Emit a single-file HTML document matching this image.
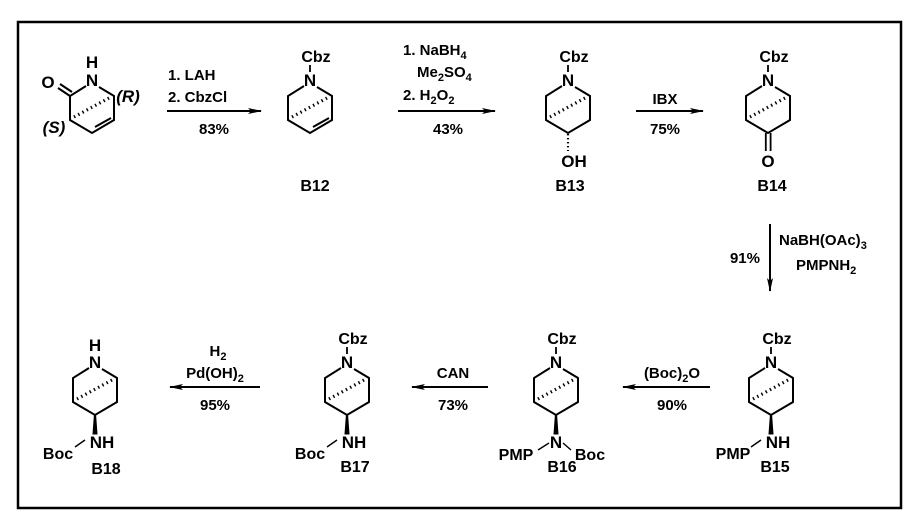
<!DOCTYPE html>
<html><head><style>
html,body{margin:0;padding:0;background:#fff;}
svg{display:block;}
text{font-family:"Liberation Sans",Arial,sans-serif;font-weight:bold;fill:#000;}
</style></head><body>
<svg width="919" height="525" viewBox="0 0 919 525" xmlns="http://www.w3.org/2000/svg">
<defs>
<g id="ring">
<path d="M-6,6 L-22,16 L-22,40 L0,53 L22,40 L22,16 L7,7" fill="none" stroke="#000" stroke-width="2"/>
<line x1="-18" y1="37" x2="17" y2="18" stroke="#000" stroke-width="3.2" stroke-dasharray="1.4,3.4"/>
<text x="0" y="6" font-size="17" text-anchor="middle">N</text>
</g>
<g id="cbz">
<line x1="0" y1="-8" x2="0" y2="-15" stroke="#000" stroke-width="1.8"/>
<text x="6" y="-18" font-size="16" text-anchor="middle">Cbz</text>
</g>
<g id="wedge">
<path d="M-2,72 L2,72 L0.6,53 L-0.6,53 Z" fill="#000" stroke="#000" stroke-width="1"/>
</g>
<marker id="ah" markerWidth="14" markerHeight="8" refX="13" refY="4" orient="auto" markerUnits="userSpaceOnUse">
<path d="M0,1 L14,4 L0,7 L3,4 Z" fill="#000"/>
</marker>
</defs>
<rect x="18" y="22" width="883" height="486" fill="none" stroke="#000" stroke-width="2.5"/>

<!-- starting material -->
<g transform="translate(92,80)">
<path d="M-6,6 L-22,16 L-22,40 L0,53 L22,40 L22,16 L7,7" fill="none" stroke="#000" stroke-width="2"/>
<line x1="3" y1="47" x2="19" y2="38" stroke="#000" stroke-width="2"/>
<line x1="-18" y1="37" x2="17" y2="18" stroke="#000" stroke-width="3.2" stroke-dasharray="1.4,3.4"/>
<text x="0" y="6" font-size="17" text-anchor="middle">N</text>
<text x="0" y="-12" font-size="17" text-anchor="middle">H</text>
<line x1="-22" y1="16" x2="-34" y2="8" stroke="#000" stroke-width="2"/>
<line x1="-20" y1="12" x2="-32" y2="4" stroke="#000" stroke-width="2"/>
<text x="-44" y="8" font-size="17" text-anchor="middle">O</text>
<text x="-38" y="53" font-size="17" font-style="italic" font-weight="normal" text-anchor="middle">(S)</text>
<text x="36" y="22" font-size="17" font-style="italic" font-weight="normal" text-anchor="middle">(R)</text>
</g>

<!-- arrow 1 -->
<line x1="167" y1="111" x2="261" y2="111" stroke="#000" stroke-width="2" marker-end="url(#ah)"/>
<text x="168" y="80" font-size="15">1. LAH</text>
<text x="168" y="102" font-size="15">2. CbzCl</text>
<text x="214" y="134" font-size="15" text-anchor="middle">83%</text>

<!-- B12 -->
<g transform="translate(310,80)">
<path d="M-6,6 L-22,16 L-22,40 L0,53 L22,40 L22,16 L7,7" fill="none" stroke="#000" stroke-width="2"/>
<line x1="3" y1="47" x2="19" y2="38" stroke="#000" stroke-width="2"/>
<line x1="-18" y1="37" x2="17" y2="18" stroke="#000" stroke-width="3.2" stroke-dasharray="1.4,3.4"/>
<text x="0" y="6" font-size="17" text-anchor="middle">N</text>
<use href="#cbz"/>
</g>
<text x="315" y="191" font-size="16" text-anchor="middle">B12</text>

<!-- arrow 2 -->
<line x1="398" y1="111" x2="495" y2="111" stroke="#000" stroke-width="2" marker-end="url(#ah)"/>
<text x="403" y="55" font-size="15">1. NaBH<tspan font-size="11" dy="4">4</tspan></text>
<text x="417" y="77" font-size="15">Me<tspan font-size="11" dy="4">2</tspan><tspan dy="-4">SO</tspan><tspan font-size="11" dy="4">4</tspan></text>
<text x="403" y="100" font-size="15">2. H<tspan font-size="11" dy="4">2</tspan><tspan dy="-4">O</tspan><tspan font-size="11" dy="4">2</tspan></text>
<text x="448" y="134" font-size="15" text-anchor="middle">43%</text>

<!-- B13 -->
<g transform="translate(568,80)">
<use href="#ring"/><use href="#cbz"/>
<line x1="0" y1="54" x2="0" y2="71" stroke="#000" stroke-width="2.2" stroke-dasharray="1.4,2.6"/>
<text x="6" y="87" font-size="17" text-anchor="middle">OH</text>
</g>
<text x="570" y="191" font-size="16" text-anchor="middle">B13</text>

<!-- arrow 3 -->
<line x1="636" y1="111" x2="703" y2="111" stroke="#000" stroke-width="2" marker-end="url(#ah)"/>
<text x="665" y="104" font-size="15" text-anchor="middle">IBX</text>
<text x="665" y="134" font-size="15" text-anchor="middle">75%</text>

<!-- B14 -->
<g transform="translate(768,80)">
<use href="#ring"/><use href="#cbz"/>
<line x1="-2.2" y1="53" x2="-2.2" y2="71" stroke="#000" stroke-width="1.8"/>
<line x1="2.6" y1="53" x2="2.6" y2="71" stroke="#000" stroke-width="1.8"/>
<text x="0" y="87" font-size="17" text-anchor="middle">O</text>
</g>
<text x="772" y="191" font-size="16" text-anchor="middle">B14</text>

<!-- vertical arrow -->
<line x1="770" y1="224" x2="770" y2="291" stroke="#000" stroke-width="2" marker-end="url(#ah)"/>
<text x="760" y="263" font-size="15" text-anchor="end">91%</text>
<text x="779" y="245" font-size="15">NaBH(OAc)<tspan font-size="11" dy="4">3</tspan></text>
<text x="796" y="270" font-size="15">PMPNH<tspan font-size="11" dy="4">2</tspan></text>

<!-- B15 -->
<g transform="translate(771,362)">
<use href="#ring"/><use href="#cbz"/><use href="#wedge"/>
<text x="7" y="86" font-size="17" text-anchor="middle">NH</text>
<line x1="-10" y1="78" x2="-20" y2="85" stroke="#000" stroke-width="1.4"/>
<text x="-38" y="97" font-size="16" text-anchor="middle">PMP</text>
</g>
<text x="775" y="472" font-size="16" text-anchor="middle">B15</text>

<!-- arrow (Boc)2O -->
<line x1="710" y1="387" x2="623" y2="387" stroke="#000" stroke-width="2" marker-end="url(#ah)"/>
<text x="672" y="378" font-size="15" text-anchor="middle">(Boc)<tspan font-size="11" dy="4">2</tspan><tspan dy="-4">O</tspan></text>
<text x="672" y="410" font-size="15" text-anchor="middle">90%</text>

<!-- B16 -->
<g transform="translate(556,362)">
<use href="#ring"/><use href="#cbz"/><use href="#wedge"/>
<text x="0" y="86" font-size="17" text-anchor="middle">N</text>
<line x1="-7" y1="81" x2="-18" y2="88" stroke="#000" stroke-width="1.4"/>
<line x1="7" y1="81" x2="15" y2="88" stroke="#000" stroke-width="1.4"/>
<text x="-40" y="98" font-size="16" text-anchor="middle">PMP</text>
<text x="34" y="98" font-size="16" text-anchor="middle">Boc</text>
</g>
<text x="562" y="472" font-size="16" text-anchor="middle">B16</text>

<!-- arrow CAN -->
<line x1="488" y1="387" x2="412" y2="387" stroke="#000" stroke-width="2" marker-end="url(#ah)"/>
<text x="453" y="378" font-size="15" text-anchor="middle">CAN</text>
<text x="453" y="410" font-size="15" text-anchor="middle">73%</text>

<!-- B17 -->
<g transform="translate(347,362)">
<use href="#ring"/><use href="#cbz"/><use href="#wedge"/>
<text x="7" y="86" font-size="17" text-anchor="middle">NH</text>
<line x1="-10" y1="78" x2="-20" y2="85" stroke="#000" stroke-width="1.4"/>
<text x="-37" y="97" font-size="16" text-anchor="middle">Boc</text>
</g>
<text x="355" y="472" font-size="16" text-anchor="middle">B17</text>

<!-- arrow H2 -->
<line x1="260" y1="387" x2="170" y2="387" stroke="#000" stroke-width="2" marker-end="url(#ah)"/>
<text x="218" y="356" font-size="15" text-anchor="middle">H<tspan font-size="11" dy="4">2</tspan></text>
<text x="215" y="378" font-size="15" text-anchor="middle">Pd(OH)<tspan font-size="11" dy="4">2</tspan></text>
<text x="215" y="410" font-size="15" text-anchor="middle">95%</text>

<!-- B18 -->
<g transform="translate(95,362)">
<use href="#ring"/><use href="#wedge"/>
<text x="0" y="-11" font-size="17" text-anchor="middle">H</text>
<text x="7" y="86" font-size="17" text-anchor="middle">NH</text>
<line x1="-10" y1="78" x2="-20" y2="85" stroke="#000" stroke-width="1.4"/>
<text x="-37" y="97" font-size="16" text-anchor="middle">Boc</text>
</g>
<text x="106" y="474" font-size="16" text-anchor="middle">B18</text>
</svg>
</body></html>
